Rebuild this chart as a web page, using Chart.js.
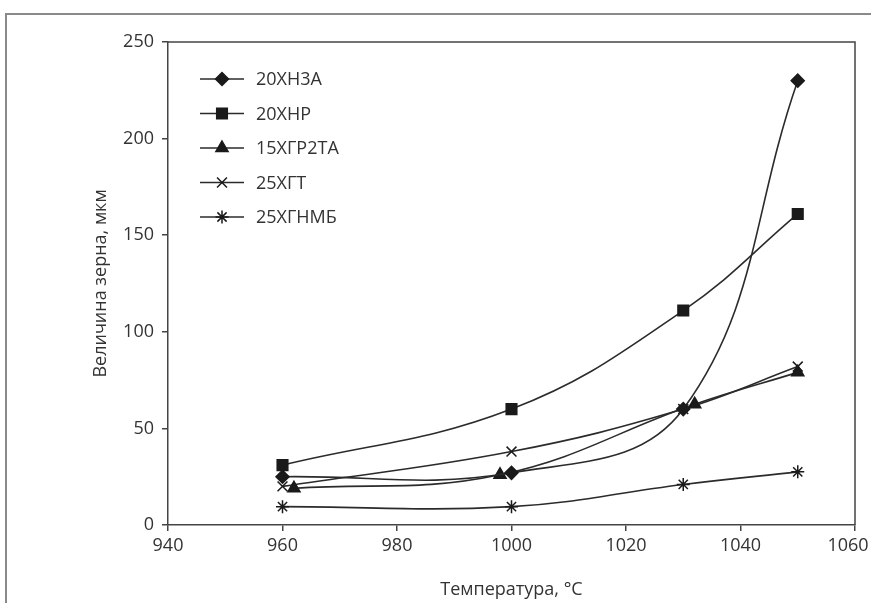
<!DOCTYPE html>
<html>
<head>
<meta charset="utf-8">
<script src="https://cdn.jsdelivr.net/npm/chart.js@4.4.1/dist/chart.umd.min.js"></script>
<style>
html,body{margin:0;padding:0;background:#fff;}
#wrap{position:relative;width:871px;height:603px;}
</style>
</head>
<body>
<div id="wrap"><canvas id="c" width="871" height="603"></canvas></div>
<script>
// ---- data ----
const seriesNames = ['20ХН3А', '20ХНР', '15ХГР2ТА', '25ХГТ', '25ХГНМБ'];
const xTicks = [940, 960, 980, 1000, 1020, 1040, 1060];
const yTicks = [0, 50, 100, 150, 200, 250];

const x20XN3A = [960, 1000, 1030, 1050];
const y20XN3A = [25, 27, 60, 230];

const x20XNR = [960, 1000, 1030, 1050];
const y20XNR = [31, 60, 111, 161];

const x15XGR2TA = [962, 998, 1032, 1050];
const y15XGR2TA = [19, 26, 62.5, 79];

const x25XGT = [960, 1000, 1030, 1050];
const y25XGT = [20, 38, 60, 82];

const x25XGNMB = [960, 1000, 1030, 1050];
const y25XGNMB = [9.5, 9.5, 21, 27.5];

const xTitle = 'Температура, °С';
const yTitle = 'Величина зерна, мкм';

// ---- build chart ----
const xsList = [x20XN3A, x20XNR, x15XGR2TA, x25XGT, x25XGNMB];
const ysList = [y20XN3A, y20XNR, y15XGR2TA, y25XGT, y25XGNMB];
const styles = [
  {pointStyle: 'rectRot', r: 6.5},
  {pointStyle: 'rect', r: 7.5},
  {pointStyle: 'triangle', r: 7},
  {pointStyle: 'crossRot', r: 7},
  {pointStyle: 'star', r: 6.5}
];
const lineColor = '#2b2b2b';
const textColor = '#333333';
const FONT = "'Open Sans', 'Noto Sans', sans-serif";
const FS = 18;

const datasets = seriesNames.map((name, i) => ({
  label: name,
  data: xsList[i].map((x, j) => ({x: x, y: ysList[i][j]})),
  borderColor: lineColor,
  backgroundColor: '#1a1a1a',
  borderWidth: 1.6,
  pointStyle: styles[i].pointStyle,
  pointRadius: styles[i].r,
  pointBorderColor: '#1a1a1a',
  pointBackgroundColor: '#1a1a1a',
  pointBorderWidth: 1.5,
  tension: 0.4,
  fill: false
}));

const framePlugin = {
  id: 'framePlugin',
  beforeDraw(chart) {
    const ctx = chart.ctx;
    ctx.save();
    ctx.fillStyle = '#fff';
    ctx.fillRect(0, 0, chart.width, chart.height);
    ctx.strokeStyle = '#8a8a8a';
    ctx.lineWidth = 2;
    ctx.beginPath();
    ctx.moveTo(6, chart.height);
    ctx.lineTo(6, 14);
    ctx.lineTo(chart.width, 14);
    ctx.stroke();
    ctx.restore();
  },
  afterDraw(chart) {
    const ctx = chart.ctx;
    const a = chart.chartArea;
    ctx.save();
    ctx.strokeStyle = '#444';
    ctx.lineWidth = 1.5;
    ctx.beginPath();
    ctx.moveTo(a.left, a.top);
    ctx.lineTo(a.right, a.top);
    ctx.lineTo(a.right, a.bottom);
    ctx.stroke();

    // legend inside plot area
    ctx.font = FS + 'px ' + FONT;
    ctx.textBaseline = 'middle';
    ctx.textAlign = 'left';
    chart.data.datasets.forEach((ds, i) => {
      const y = a.top + 37 + i * 34.5;
      const x0 = a.left + 32;
      ctx.strokeStyle = lineColor;
      ctx.lineWidth = 1.6;
      ctx.beginPath();
      ctx.moveTo(x0, y);
      ctx.lineTo(x0 + 44, y);
      ctx.stroke();
      ctx.fillStyle = '#1a1a1a';
      ctx.strokeStyle = '#1a1a1a';
      ctx.lineWidth = 1.5;
      Chart.helpers.drawPoint(ctx, {pointStyle: ds.pointStyle, rotation: 0, radius: ds.pointRadius, borderWidth: 1.5}, x0 + 22, y);
      ctx.fillStyle = textColor;
      ctx.fillText(ds.label, x0 + 56, y + 1);
    });
    ctx.restore();
  }
};

const lastX = xTicks[xTicks.length - 1];

new Chart(document.getElementById('c'), {
  type: 'line',
  data: {datasets: datasets},
  options: {
    responsive: false,
    animation: false,
    layout: {padding: {left: 0, right: 16, top: 42, bottom: 0}},
    plugins: {legend: {display: false}, tooltip: {enabled: false}},
    scales: {
      x: {
        type: 'linear',
        min: xTicks[0],
        max: lastX,
        afterBuildTicks(scale) { scale.ticks = xTicks.map(v => ({value: v})); },
        afterFit(scale) { scale.height = 78; scale.paddingRight = 0; scale.paddingLeft = 0; },
        ticks: {color: textColor, font: {family: FONT, size: FS}, padding: 4, maxRotation: 0,
                callback: v => (v === lastX ? String(v) + '   ' : String(v))},
        grid: {display: true, drawOnChartArea: false, drawTicks: true, tickLength: 6, color: '#444', lineWidth: 1.5},
        border: {display: true, color: '#444', width: 1.5},
        title: {display: true, text: xTitle, color: textColor, font: {family: FONT, size: FS}, padding: {top: 0, bottom: 2}}
      },
      y: {
        type: 'linear',
        min: yTicks[0],
        max: yTicks[yTicks.length - 1],
        afterBuildTicks(scale) { scale.ticks = yTicks.map(v => ({value: v})); },
        afterFit(scale) { scale.width = 168; scale.paddingTop = 0; scale.paddingBottom = 0; },
        ticks: {color: textColor, font: {family: FONT, size: FS}, padding: 8, callback: v => String(v)},
        grid: {display: true, drawOnChartArea: false, drawTicks: true, tickLength: 6, color: '#444', lineWidth: 1.5},
        border: {display: true, color: '#444', width: 1.5},
        title: {display: true, text: yTitle, color: textColor, font: {family: FONT, size: FS}, padding: {top: 90, bottom: 0}}
      }
    }
  },
  plugins: [framePlugin]
});
</script>
</body>
</html>
